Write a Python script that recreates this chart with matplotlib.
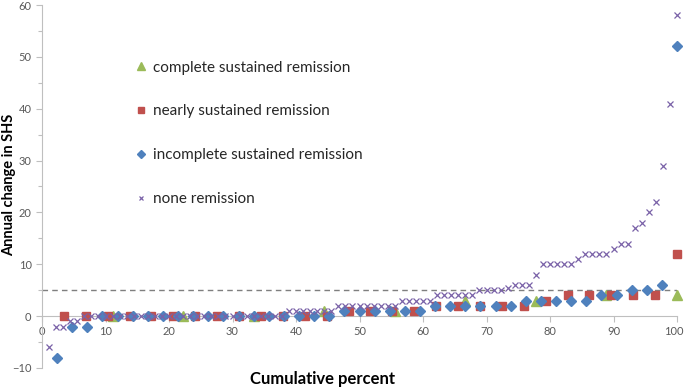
import numpy as np
import matplotlib
matplotlib.use("Agg")
import matplotlib.pyplot as plt
from matplotlib.transforms import ScaledTranslation

plt.rcParams['font.family'] = ['Lato', 'DejaVu Sans']

# annual change in SHS per group, sorted; x is cumulative percent within group
complete = [0, 0, 0, 1, 1, 3, 3, 4, 4]
nearly = [0]*13 + [1]*4 + [2]*5 + [3] + [4]*5 + [12]
incomplete = [-8, -2, -2] + [0]*16 + [1]*6 + [2]*6 + [3]*5 + [4, 4, 5, 5, 6, 52]
none_rem = ([-6, -2, -2, -1, -1] + [0]*29 + [1]*7 + [2]*9 + [3]*5 + [4]*6
            + [5]*4 + [5.5] + [6]*3 + [8] + [10]*5 + [11] + [12]*4
            + [13, 14, 14, 17, 18, 20, 22, 29, 41, 58])

labels = ["complete sustained remission", "nearly sustained remission",
          "incomplete sustained remission", "none remission"]
threshold = 5


def cum_pct(vals):
    n = len(vals)
    return 100.0 * np.arange(1, n + 1) / n


fig = plt.figure(figsize=(6.85, 3.88), dpi=100)
ax = fig.add_axes([42/685, 20/388, 635/685, 363/388])

ax.axhline(threshold, color='#7f7f7f', lw=1, ls=(0, (4, 3)), zorder=1)

ax.plot(cum_pct(complete), complete, ls='none', marker='^', ms=7,
        color='#9bbb59', label=labels[0], clip_on=False, zorder=3)
ax.plot(cum_pct(nearly), nearly, ls='none', marker='s', ms=5.5,
        color='#c0504d', label=labels[1], clip_on=False, zorder=4)
ax.plot(cum_pct(incomplete), incomplete, ls='none', marker='D', ms=5,
        color='#4f81bd', label=labels[2], clip_on=False, zorder=5)
ax.plot(cum_pct(none_rem), none_rem, ls='none', marker='x', ms=4.5, mew=0.9,
        color='#7a62a8', label=labels[3], clip_on=False, zorder=6)

ax.set_xlim(0, 100)
ax.set_ylim(-10, 60)
ax.set_xticks(np.arange(0, 101, 10))
ax.set_yticks(np.arange(-10, 61, 10))
ax.set_yticks(np.arange(-10, 61, 5), minor=True)

for s in ['top', 'right']:
    ax.spines[s].set_visible(False)
ax.spines['bottom'].set_position(('data', 0))
ax.spines['bottom'].set_color('#bfbfbf')
ax.spines['left'].set_color('#bfbfbf')
ax.tick_params(axis='both', colors='#bfbfbf', labelcolor='#595959',
               labelsize=8, length=4, width=0.8)
ax.tick_params(axis='y', which='minor', colors='#bfbfbf', length=3, width=0.8)
ax.tick_params(axis='x', pad=3)
ax.set_zorder(2)

# keep the "100" label inside the canvas
last = ax.get_xticklabels()[-1]
last.set_transform(last.get_transform() + ScaledTranslation(-3/100, 0, fig.dpi_scale_trans))

fig.text(323/685, 9/388, "Cumulative percent", ha='center', va='center',
         fontsize=12, fontweight='bold', color='#000000')
fig.text(9/685, 1 - 185/388, "Annual change in SHS", ha='center', va='center',
         rotation=90, fontsize=10.5, fontweight='bold', color='#000000')

leg = ax.legend(loc='upper left', bbox_to_anchor=(130/685, 1 - 53/388),
                bbox_transform=fig.transFigure, frameon=False, fontsize=11,
                labelspacing=1.95, handlelength=0.5, handletextpad=0.5,
                borderpad=0, markerscale=0.75)
for t in leg.get_texts():
    t.set_color('#262626')

fig.savefig("out.png", dpi=100)
